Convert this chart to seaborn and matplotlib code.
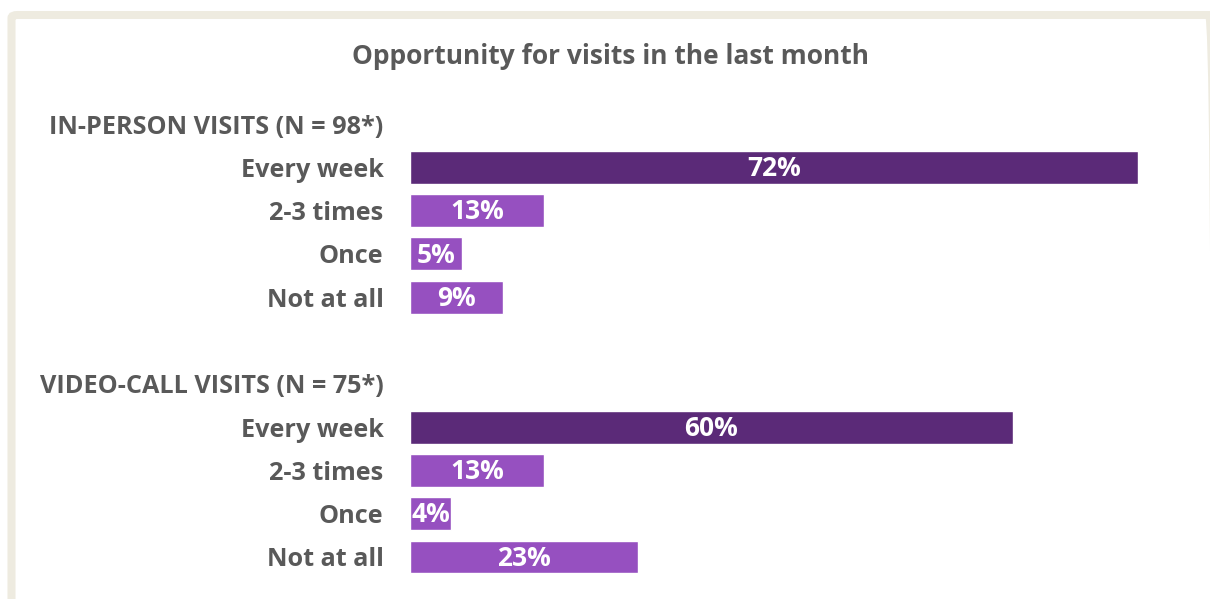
import pandas as pd
import matplotlib.pyplot as plt
import seaborn as sns
from matplotlib.patches import FancyBboxPatch

# chart data (shares in %, labels show them rounded)
row_labels = ['IN-PERSON VISITS (N = 98*)', 'Every week', '2-3 times', 'Once', 'Not at all',
              '',
              'VIDEO-CALL VISITS (N = 75*)', 'Every week', '2-3 times', 'Once', 'Not at all']
in_person = [72.0, 13.25, 5.1, 9.2]
video_call = [59.6, 13.25, 4.05, 22.55]
answers = ['Every week', '2-3 times', 'Once', 'Not at all']

row_ids = ['r%d' % i for i in range(len(row_labels))]
df = pd.DataFrame({
    'row': row_ids[1:5] + row_ids[7:11],
    'pct': in_person + video_call,
    'answer': answers * 2,
})

sns.set_theme(style='white')
plt.rcParams['font.family'] = ['Open Sans', 'DejaVu Sans']

dark = '#5B2A78'
light = '#9650C0'
grey = '#595959'
palette = {'Every week': dark, '2-3 times': light, 'Once': light, 'Not at all': light}

fig = plt.figure(figsize=(12.1, 5.99), dpi=100)
fig.patch.set_facecolor('white')

# beige frame round the chart
frame = FancyBboxPatch((11.5 / 1210, -0.1), (1215 - 11.5) / 1210, 1.1 - 15 / 599,
                       boxstyle='round,pad=0,rounding_size=0.005',
                       transform=fig.transFigure, facecolor='none',
                       edgecolor='#EEEBE0', linewidth=5.8, clip_on=False)
fig.patches.append(frame)

ax = fig.add_axes([410 / 1210, 1 - 578.65 / 599, (1138 - 410) / 1210, (578.65 - 102.35) / 599])
sns.barplot(data=df, x='pct', y='row', hue='answer', order=row_ids, palette=palette,
            dodge=False, width=0.76, legend=False, saturation=1, ax=ax)

for _, r in df.iterrows():
    yi = row_ids.index(r['row'])
    ax.text(r['pct'] / 2, yi + 0.03, '%d%%' % round(r['pct']), ha='center', va='center',
            color='white', fontsize=19, fontweight='bold')

ax.set_xlim(0, 72)
ax.set_ylim(10.5, -0.5)
ax.set_yticks(range(len(row_labels)))
ax.set_yticklabels(row_labels, fontsize=18.2, fontweight='bold', color=grey)
ax.tick_params(axis='y', length=0, pad=19)
ax.set_xticks([])
ax.set_xlabel('')
ax.set_ylabel('')
sns.despine(ax=ax, left=True, bottom=True)

fig.text(611 / 1210, 1 - 56 / 599, 'Opportunity for visits in the last month',
         ha='center', va='center', fontsize=19, fontweight='bold', color=grey)

fig.savefig('out.png', dpi=100, facecolor='white')
